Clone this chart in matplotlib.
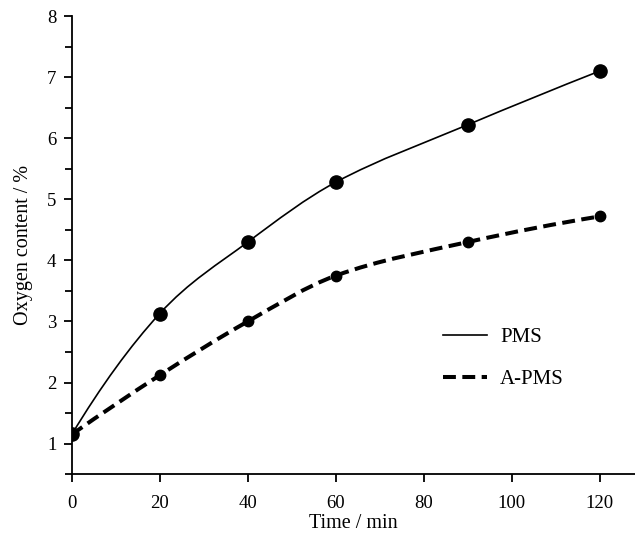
import matplotlib
matplotlib.use('Agg')
import matplotlib.pyplot as plt
import numpy as np
from matplotlib.path import Path
from matplotlib.patches import PathPatch
from matplotlib.lines import Line2D
from matplotlib.ticker import MultipleLocator

plt.rcParams['font.family'] = ['Liberation Serif', 'DejaVu Serif']

time_min = [0, 20, 40, 60, 90, 120]
pms = [1.15, 3.13, 4.30, 5.28, 6.22, 7.10]
a_pms = [1.15, 2.12, 3.00, 3.75, 4.30, 4.72]
labels = ['PMS', 'A-PMS']


def smooth_path(x, y):
    # cubic bezier through the points, tangents from neighbours
    x = np.asarray(x, float)
    y = np.asarray(y, float)
    n = len(x)
    m = np.zeros(n)
    for i in range(1, n - 1):
        m[i] = (y[i + 1] - y[i - 1]) / (x[i + 1] - x[i - 1])
    m[0] = 2 * (y[1] - y[0]) / (x[1] - x[0]) - m[1]
    m[-1] = 2 * (y[-1] - y[-2]) / (x[-1] - x[-2]) - m[-2]
    verts = [(x[0], y[0])]
    codes = [Path.MOVETO]
    for i in range(n - 1):
        dx = (x[i + 1] - x[i]) / 3
        verts += [(x[i] + dx, y[i] + m[i] * dx),
                  (x[i + 1] - dx, y[i + 1] - m[i + 1] * dx),
                  (x[i + 1], y[i + 1])]
        codes += [Path.CURVE4] * 3
    return Path(verts, codes)


dash = (0, (3.2, 1.6))

fig = plt.figure(figsize=(6.35, 5.34), dpi=100)
ax = fig.add_axes([0.113, 0.112, 0.887, 0.858])

ax.add_patch(PathPatch(smooth_path(time_min, pms), fill=False, lw=1.2, color='black'))
ax.add_patch(PathPatch(smooth_path(time_min, a_pms), fill=False, lw=2.9, color='black',
                       linestyle=dash, capstyle='butt'))
ax.plot(time_min, pms, 'o', color='black', markersize=9.5, zorder=3)
ax.plot(time_min, a_pms, 'o', color='black', markersize=7.5, zorder=3)

ax.set_xlim(0, 128)
ax.set_ylim(0.5, 8)
ax.xaxis.set_major_locator(MultipleLocator(20))
ax.yaxis.set_major_locator(MultipleLocator(1))
ax.yaxis.set_minor_locator(MultipleLocator(0.5))
for s in ['top', 'right']:
    ax.spines[s].set_visible(False)
for s in ['left', 'bottom']:
    ax.spines[s].set_linewidth(1.3)
ax.tick_params(which='major', direction='out', length=6, width=1.3, labelsize=13.5, pad=5)
ax.tick_params(which='minor', direction='out', length=5, width=1.3)
ax.tick_params(axis='x', pad=9)

ax.set_xlabel('Time / min', fontsize=14.5, labelpad=1.5)
ax.set_ylabel('Oxygen content / %', fontsize=14.5, labelpad=10)

handles = [Line2D([], [], color='black', lw=1.2),
           Line2D([], [], color='black', lw=2.9, linestyle=dash)]
ax.legend(handles, labels, loc='center left', bbox_to_anchor=(0.659, 0.253),
          frameon=False, fontsize=15, borderpad=0, borderaxespad=0,
          handlelength=2.1, handletextpad=0.65, labelspacing=1.1)

fig.savefig('out.png', dpi=100)
